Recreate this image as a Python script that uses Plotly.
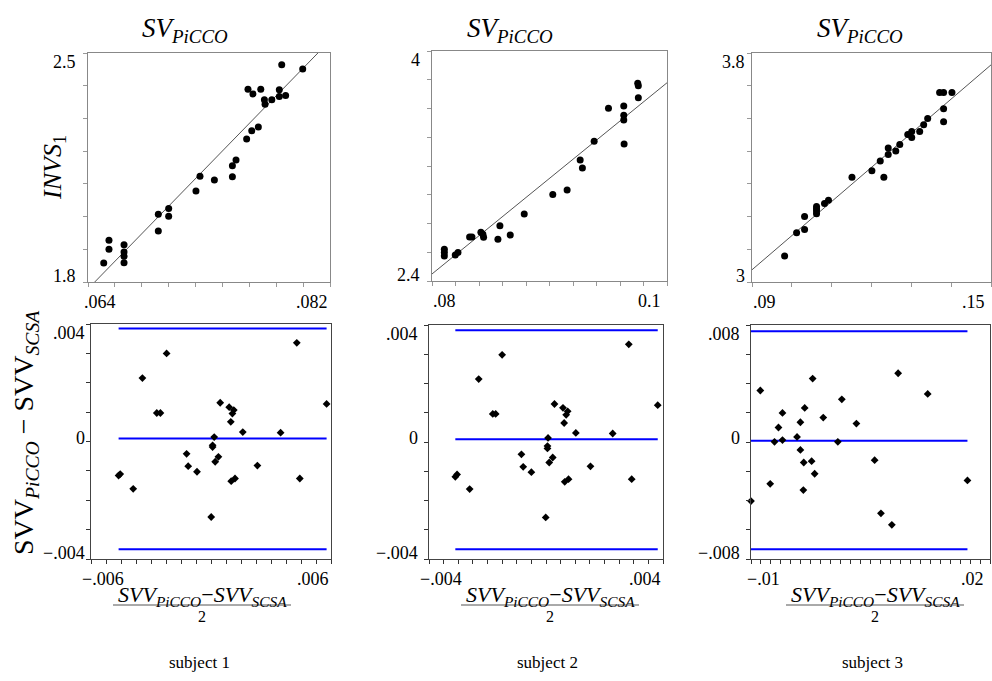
import numpy as np
import plotly.graph_objects as go

W, H = 992, 681

# ---------------- data: top row (INVS1 vs SV_PiCCO) ----------------
s1_x = [.06517, .06556, .06556, .06668, .06668, .06668, .06668, .06923, .06923, .0700, .0700,
        .07203, .07233, .0734, .07474, .07474, .07501, .0758, .07618, .07667, .0759, .07627,
        .07685, .07712, .07717, .07767, .07823, .07823, .07841, .0787, .07997]
s1_y = [1.858, 1.928, 1.900, 1.914, 1.892, 1.879, 1.859, 2.007, 1.956, 2.025, 2.001,
        2.078, 2.123, 2.112, 2.155, 2.122, 2.173, 2.237, 2.262, 2.274, 2.389, 2.375,
        2.389, 2.357, 2.343, 2.357, 2.388, 2.367, 2.464, 2.370, 2.451]
s1_fit = [-0.920, 42.17]          # intercept, slope

s2_x = [.08105, .08105, .08105, .08198, .08221, .0832, .0834, .08416, .08433, .08439, .08561,
        .08578, .08666, .08785, .09028, .0915, .09261, .0928, .0938, .09502, .09632, .09632,
        .09632, .09635, .09751, .09756, .09756]
s2_y = [2.620, 2.599, 2.574, 2.581, 2.599, 2.706, 2.706, 2.739, 2.725, 2.704, 2.690,
        2.785, 2.720, 2.866, 3.001, 3.033, 3.242, 3.186, 3.372, 3.601, 3.617, 3.553,
        3.520, 3.353, 3.775, 3.759, 3.675]
s2_fit = [-2.871, 66.5]

s3_x = [.09819, .1012, .1032, .1032, .1062, .1062, .1062, .1062, .1082, .1092, .1151, .1201,
        .1222, .1231, .1242, .1242, .1261, .1271, .1291, .1301, .1301, .1321, .1331, .1341,
        .1371, .1381, .1402, .1381, .1381]
s3_y = [3.091, 3.172, 3.183, 3.229, 3.238, 3.248, 3.256, 3.264, 3.274, 3.286, 3.366, 3.389,
        3.423, 3.366, 3.445, 3.468, 3.458, 3.480, 3.515, 3.526, 3.505, 3.526, 3.549, 3.571,
        3.662, 3.662, 3.662, 3.605, 3.560]
s3_fit = [1.969, 11.93]

# ---------------- data: bottom row (Bland-Altman) ----------------
b1_x = [-.00462, -.00454, -.00389, -.00343, -.00271, -.00253, -.00222, -.00122, -.00114, -.00070,
        .00001, .00008, .00008, .00016, .00021, .00037, .00046, .00091, .00099, .00101, .00107,
        .00114, .00120, .00159, .00232, .00348, .00429, .00444, .00578]
b1_y = [-.00116, -.00111, -.00161, .00216, .00097, .00097, .00300, -.00042, -.00084, -.00103,
        -.00257, -.00013, -.00019, .00015, -.00069, -.00052, .00132, .00117, .00067, -.00135, .00095,
        .00107, -.00126, .00032, -.00082, .00030, .00336, -.00126, .00128]
b1_loa = [.00385, .00010, -.00367]   # upper limit, mean, lower limit

b2_x = [-.0031, -.00304, -.00261, -.0023, -.00182, -.00172, -.0015, -.00084, -.00078, -.0005,
        -.00001, .00005, .00005, .00007, .00011, .00023, .00029, .00058, .00062, .00064, .00069,
        .00074, .00077, .00102, .00152, .00228, .00283, .00293, .00382]
b2_y = [-.00119, -.00111, -.00161, .00215, .00096, .00096, .00298, -.00042, -.00085, -.00103,
        -.00258, -.00014, -.00022, .00014, -.0007, -.00053, .0013, .00117, .00065, -.00136, .00093,
        .00105, -.00127, .00031, -.00083, .00029, .00334, -.00127, .00126]
b2_loa = [.00382, .00009, -.00367]

b3_x = [-.01, -.00883, -.00759, -.00705, -.00655, -.00605, -.00605, -.00422, -.0038, -.0038,
        -.00338, -.00343, -.00326, -.00239, -.00226, -.00201, -.00093, .0009, .0014, .00323,
        .00552, .00631, .00768, .00847, .01218, .01717]
b3_y = [-.00404, .00352, -.00286, .00001, .00099, .00199, .00013, .00035, .00135, -.00054,
        -.0014, -.00329, .00233, -.00131, .00434, -.00217, .00167, .00001, .00292, .00126,
        -.00124, -.00488, -.00566, .0047, .00329, -.00263]
b3_loa = [.00757, .00008, -.00734]

# ---------------- axes: ranges, tick counts, end labels ----------------
top_xrange = [[.064, .082], [.08, .10], [.09, .15]]
top_xticks = [9, 10, 6]
top_xlabels = [[".064", ".082"], [".08", "0.1"], [".09", ".15"]]
top_yrange = [[1.8, 2.5], [2.4, 4.0], [3.0, 3.8]]
top_yticks = [7, 8, 7]
top_ylabels = [["1.8", "2.5"], ["2.4", "4"], ["3", "3.8"]]

bot_xrange = [[-.006, .006], [-.004, .004], [-.01, .02]]
bot_xticks = [16, 16, 24]
bot_xlabels = [["\u2212.006", ".006"], ["\u2212.004", ".004"], ["\u2212.01", ".02"]]
bot_yrange = [[-.004, .004], [-.004, .004], [-.008, .008]]
bot_yticks = [8, 8, 8]
bot_ylabels = [["\u2212.004", "0", ".004"], ["\u2212.004", "0", ".004"], ["\u2212.008", "0", ".008"]]

subjects = ["subject 1", "subject 2", "subject 3"]

# ---------------- layout geometry (pixels) ----------------
top_boxes = [(88, 330, 53, 282), (432, 667, 51, 281), (752, 991, 53, 282)]
bot_boxes = [(91, 331, 324, 559), (429, 663, 325, 559), (751, 990, 325, 559)]
top_ygap = [10, 10, 5]
bot_ygap = [4, 9, 9]

FONT = "Liberation Serif, Times New Roman, Times, serif"
TICK_SIZE = 18

fig = go.Figure()
annotations = []


def ann(text, px, py, size, angle=0, xanchor="center"):
    annotations.append(dict(text=text, x=px / W, y=1 - py / H, xref="paper", yref="paper",
                            showarrow=False, xanchor=xanchor, yanchor="middle", textangle=angle,
                            font=dict(family=FONT, size=size, color="black")))


def px_dom_x(a, b):
    return [a / W, b / W]


def px_dom_y(top, bottom):
    return [1 - bottom / H, 1 - top / H]


def axis(box_dom, anchor, rng, n, tickcolor, linecolor):
    return dict(domain=box_dom, anchor=anchor, range=rng, tickmode="array",
                tickvals=list(np.linspace(rng[0], rng[1], n + 1)), showticklabels=False,
                ticks="outside", ticklen=4, tickcolor=tickcolor,
                showline=True, linecolor=linecolor, mirror=True, showgrid=False, zeroline=False)


def end_labels(box, xl, yl, yrng, ygap):
    x0, x1, y0, y1 = box
    ann(xl[0], x0 + 12, y1 + 20, TICK_SIZE)
    ann(xl[1], x1 - 18, y1 + 20, TICK_SIZE)
    ann(yl[-1], x0 - ygap, y0 + 9, TICK_SIZE, xanchor="right")
    ann(yl[0], x0 - ygap, y1 - 6, TICK_SIZE, xanchor="right")
    if len(yl) == 3:
        zero_py = y1 - (0 - yrng[0]) / (yrng[1] - yrng[0]) * (y1 - y0)
        ann(yl[1], x0 - ygap, zero_py - 4, TICK_SIZE, xanchor="right")


tops = [(s1_x, s1_y, s1_fit), (s2_x, s2_y, s2_fit), (s3_x, s3_y, s3_fit)]
bots = [(b1_x, b1_y, b1_loa), (b2_x, b2_y, b2_loa), (b3_x, b3_y, b3_loa)]

layout_axes = {}
for i in range(3):
    # top panel
    k = i + 1
    xa, ya = ("x" if k == 1 else f"x{k}"), ("y" if k == 1 else f"y{k}")
    xs, ys, fit = tops[i]
    xr = top_xrange[i]
    fig.add_trace(go.Scatter(x=xr, y=[fit[0] + fit[1] * v for v in xr], mode="lines",
                             line=dict(color="#555555", width=1), xaxis=xa, yaxis=ya,
                             showlegend=False, hoverinfo="skip"))
    fig.add_trace(go.Scatter(x=xs, y=ys, mode="markers",
                             marker=dict(color="black", size=7, symbol="circle"),
                             xaxis=xa, yaxis=ya, showlegend=False))
    box = top_boxes[i]
    layout_axes["xaxis" + ("" if k == 1 else str(k))] = axis(
        px_dom_x(box[0], box[1]), ya, top_xrange[i], top_xticks[i], "#999999", "#888888")
    layout_axes["yaxis" + ("" if k == 1 else str(k))] = axis(
        px_dom_y(box[2], box[3]), xa, top_yrange[i], top_yticks[i], "#999999", "#888888")
    end_labels(box, top_xlabels[i], top_ylabels[i], top_yrange[i], top_ygap[i])

    # bottom panel
    k = i + 4
    xa, ya = f"x{k}", f"y{k}"
    xs, ys, loa = bots[i]
    for v in loa:
        fig.add_trace(go.Scatter(x=[min(xs), max(xs)], y=[v, v], mode="lines",
                                 line=dict(color="#0000ff", width=2), xaxis=xa, yaxis=ya,
                                 showlegend=False, hoverinfo="skip"))
    fig.add_trace(go.Scatter(x=xs, y=ys, mode="markers",
                             marker=dict(color="black", size=6, symbol="diamond"),
                             xaxis=xa, yaxis=ya, showlegend=False, cliponaxis=False))
    box = bot_boxes[i]
    layout_axes[f"xaxis{k}"] = axis(
        px_dom_x(box[0], box[1]), ya, bot_xrange[i], bot_xticks[i], "#333333", "#444444")
    layout_axes[f"yaxis{k}"] = axis(
        px_dom_y(box[2], box[3]), xa, bot_yrange[i], bot_yticks[i], "#333333", "#444444")
    end_labels(box, bot_xlabels[i], bot_ylabels[i], bot_yrange[i], bot_ygap[i])

sv_title = "<i>SV</i><sub><i>PiCCO</i></sub>"
for cx in (185, 510, 860):
    ann(sv_title, cx, 30, 27)

ann("<i>INVS</i><sub>1</sub>", 54, 168, 26, angle=-90)
ann("SVV<sub><i>PiCCO</i></sub> \u2212 SVV<sub><i>SCSA</i></sub>", 26, 433, 28, angle=-90)

num = "<i>SVV</i><sub><i>PiCCO</i></sub>\u2212<i>SVV</i><sub><i>SCSA</i></sub>"
shapes = []
for cx, subj in zip((202, 550, 875), subjects):
    ann(num, cx, 596, 22)
    ann("2", cx, 616, 16)
    shapes.append(dict(type="line", xref="paper", yref="paper",
                       x0=(cx - 89) / W, x1=(cx + 89) / W, y0=1 - 605 / H, y1=1 - 605 / H,
                       line=dict(color="#555555", width=1)))
    ann(subj, cx - 3, 662, 17)

fig.update_layout(width=W, height=H, margin=dict(l=0, r=0, t=0, b=0),
                  plot_bgcolor="white", paper_bgcolor="white", hovermode=False,
                  annotations=annotations, shapes=shapes, **layout_axes)

fig.write_html("out.html", config={"displayModeBar": False},
               post_script="document.body.style.margin='0';document.body.style.padding='0';"
                           "document.body.style.overflow='hidden';")
